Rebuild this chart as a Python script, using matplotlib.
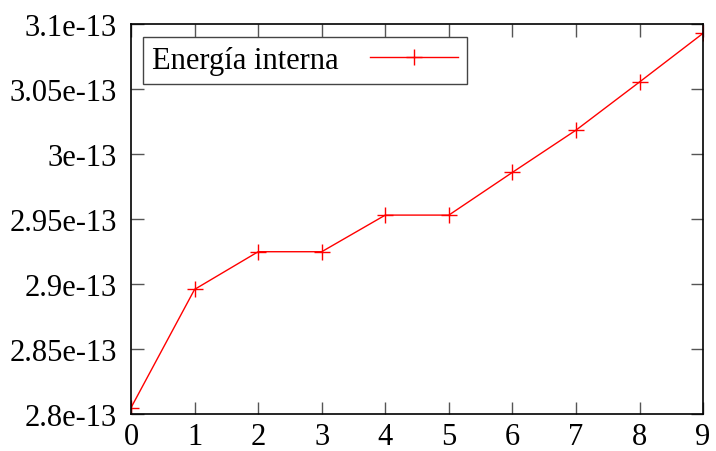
import matplotlib.pyplot as plt

x = [0, 1, 2, 3, 4, 5, 6, 7, 8, 9]
energia = [2.8048e-13, 2.8959e-13, 2.9249e-13, 2.9249e-13, 2.9531e-13,
           2.9531e-13, 2.9860e-13, 3.0185e-13, 3.0556e-13, 3.0931e-13]
yticks = [2.8e-13, 2.85e-13, 2.9e-13, 2.95e-13, 3.0e-13, 3.05e-13, 3.1e-13]
ytick_labels = ['2.8e-13', '2.85e-13', '2.9e-13', '2.95e-13', '3e-13', '3.05e-13', '3.1e-13']

plt.rcParams['font.family'] = ['Liberation Serif', 'DejaVu Serif']
plt.rcParams['font.size'] = 16

fig = plt.figure(figsize=(7.16, 4.52), dpi=100)
ax = fig.add_axes([0.183, 0.082, 0.799, 0.862])

ax.plot(x, energia, color='red', linewidth=1.0, marker='+', markersize=12,
        markeredgewidth=1.0, label='Energía interna')

ax.set_xlim(0, 9)
ax.set_ylim(2.8e-13, 3.1e-13)
ax.set_xticks(x)
ax.set_yticks(yticks)
ax.set_yticklabels(ytick_labels)

ax.tick_params(direction='in', length=9, width=1, color='#555555',
               top=True, right=True, labelsize=22)
ax.tick_params(axis='y', pad=10)
ax.tick_params(axis='x', pad=6)
for s in ax.spines.values():
    s.set_linewidth(1.2)

leg = ax.legend(loc='upper left', markerfirst=False, fancybox=False,
                edgecolor='#444444', framealpha=1, fontsize=22,
                handlelength=2.9, handletextpad=1.0,
                borderaxespad=0.4, borderpad=0.3)
leg.get_frame().set_linewidth(1.0)

fig.savefig('out.png', dpi=100)
